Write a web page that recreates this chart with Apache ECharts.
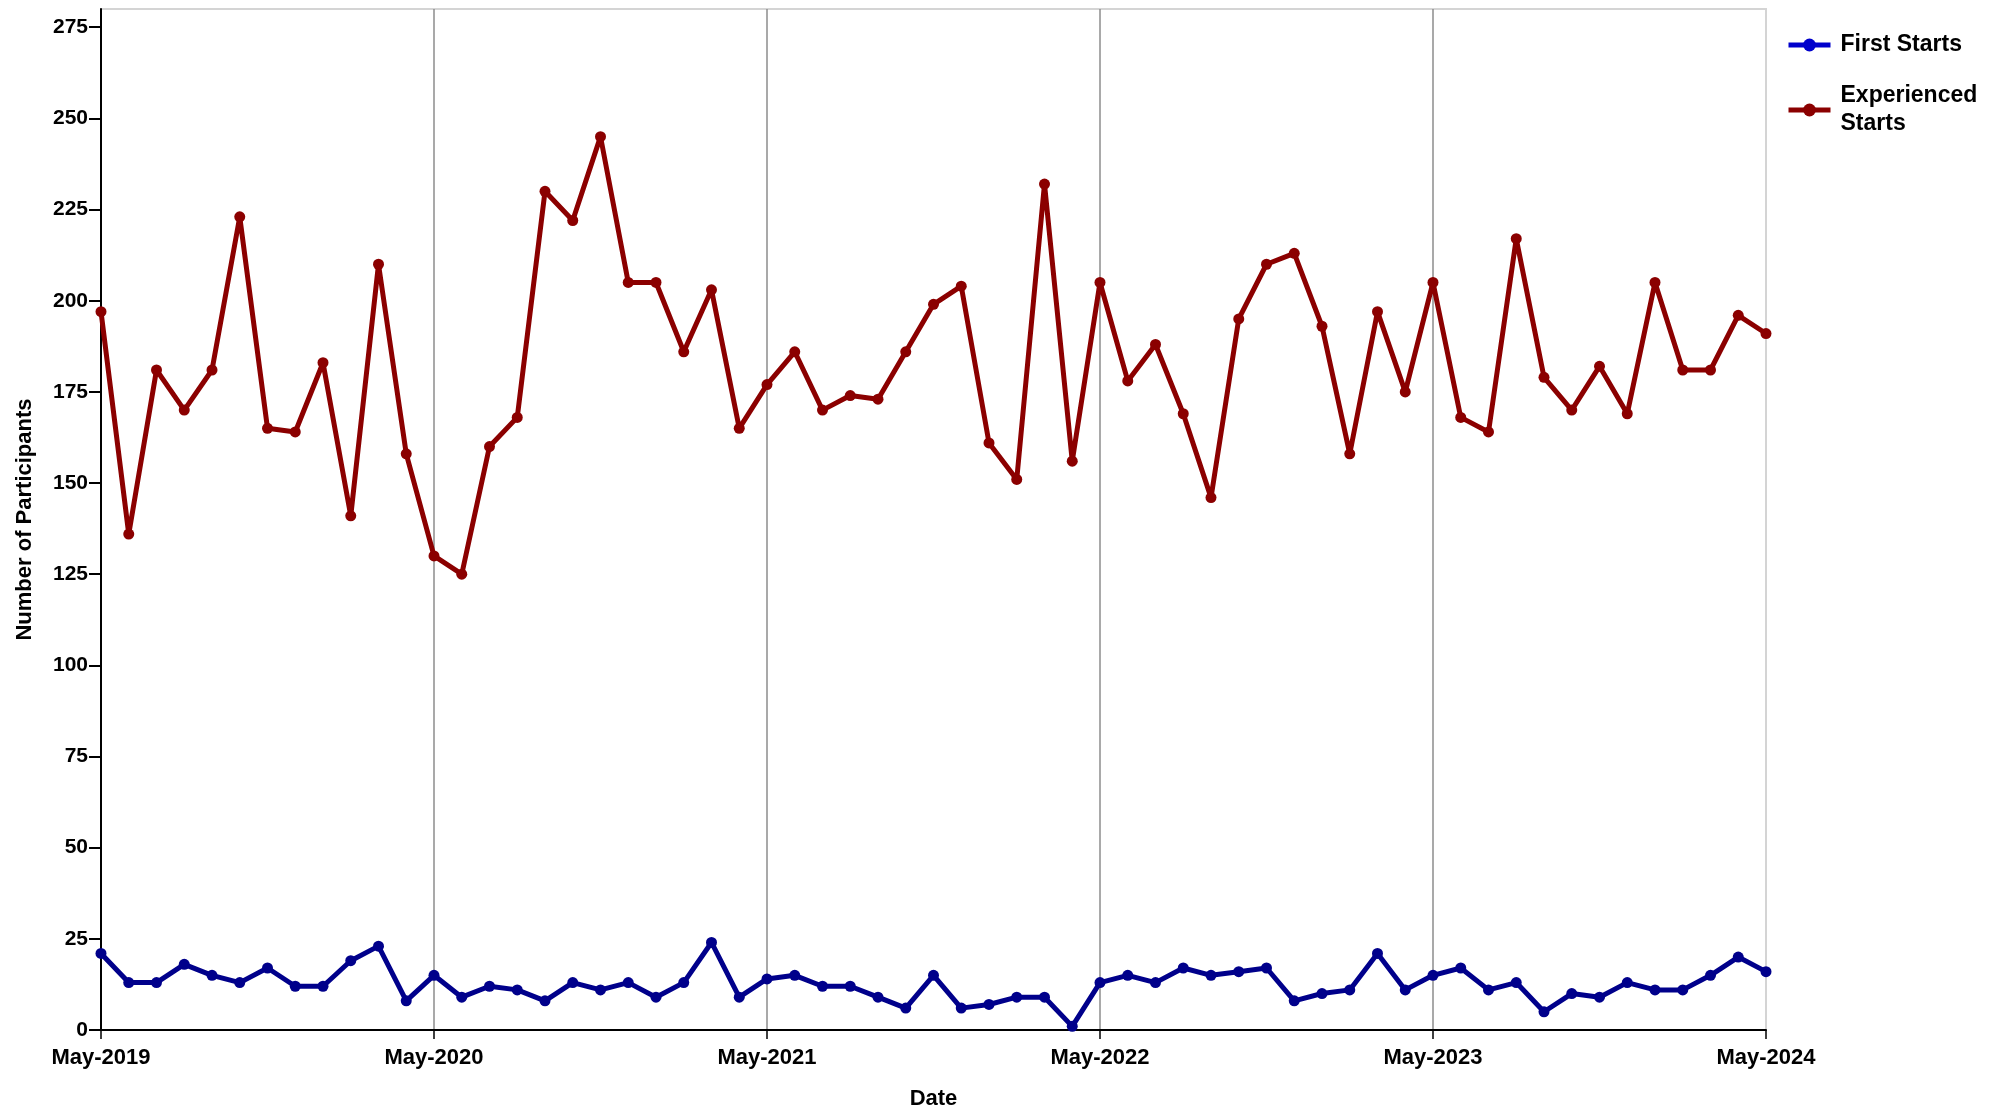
<!DOCTYPE html>
<html>
<head>
<meta charset="utf-8">
<script src="https://cdn.jsdelivr.net/npm/echarts@6/dist/echarts.min.js"></script>
<style>
  html, body { margin: 0; padding: 0; background: #ffffff; }
  #chart { width: 2007px; height: 1115px; }
</style>
</head>
<body>
<div id="chart"></div>
<script>
// Monthly categories May-2019 .. May-2024
const monthNames = ['Jan','Feb','Mar','Apr','May','Jun','Jul','Aug','Sep','Oct','Nov','Dec'];
const categories = [];
for (let i = 0; i < 61; i++) {
  const m = (4 + i) % 12;
  const y = 2019 + Math.floor((4 + i) / 12);
  categories.push(monthNames[m] + '-' + y);
}

const firstStarts = [21,13,13,18,15,13,17,12,12,19,23,8,15,9,12,11,8,13,11,13,9,13,24,9,14,15,12,12,9,6,15,6,7,9,9,1,13,15,13,17,15,16,17,8,10,11,21,11,15,17,11,13,5,10,9,13,11,11,15,20,16];

const experiencedStarts = [197,136,181,170,181,223,165,164,183,141,210,158,130,125,160,168,230,222,245,205,205,186,203,165,177,186,170,174,173,186,199,204,161,151,232,156,205,178,188,169,146,195,210,213,193,158,197,175,205,168,164,217,179,170,182,169,205,181,181,196,191];

const yTicks = [0,25,50,75,100,125,150,175,200,225,250,275];

const FONT = 'Liberation Sans, Arial, sans-serif';

const chart = echarts.init(document.getElementById('chart'), null, { renderer: 'canvas' });

chart.setOption({
  animation: false,
  backgroundColor: '#ffffff',
  textStyle: { fontFamily: FONT },
  grid: {
    left: 101, right: 241, top: 9, bottom: 66,
    show: true, borderColor: '#d4d4d4', borderWidth: 2, backgroundColor: 'transparent'
  },
  legend: {
    orient: 'vertical',
    left: 1781,
    top: 26,
    itemWidth: 42,
    itemHeight: 16,
    itemGap: 23,
    textStyle: { fontFamily: FONT, fontWeight: 'bold', fontSize: 23, color: '#000', lineHeight: 28, padding: [0, 0, 0, 5] },
    formatter: function (name) { return name === 'Experienced Starts' ? 'Experienced\nStarts' : name; },
    data: [
      { name: 'First Starts', itemStyle: { color: '#0000CC' }, lineStyle: { color: '#0000CC', width: 5 } },
      { name: 'Experienced Starts', itemStyle: { color: '#8B0000' }, lineStyle: { color: '#8B0000', width: 5 } }
    ]
  },
  xAxis: {
    type: 'category',
    data: categories,
    boundaryGap: false,
    name: 'Date',
    nameLocation: 'middle',
    nameGap: 58,
    nameTextStyle: { fontFamily: FONT, fontWeight: 'bold', fontSize: 22, color: '#000' },
    axisLine: { show: true, lineStyle: { color: '#000', width: 2 } },
    axisTick: { show: true, interval: 11, length: 9, lineStyle: { color: '#000', width: 1.5 } },
    axisLabel: { interval: 11, margin: 17, fontFamily: FONT, fontWeight: 'bold', fontSize: 22, color: '#000' },
    splitLine: {
      show: true,
      interval: function (index) { return index % 12 === 0 && index !== 0 && index !== 60; },
      lineStyle: { color: '#8c8c8c', width: 1.5 }
    }
  },
  yAxis: {
    type: 'value',
    min: 0,
    max: 280,
    interval: 25,
    name: 'Number of Participants',
    nameLocation: 'middle',
    nameRotate: 90,
    nameGap: 65,
    nameTextStyle: { fontFamily: FONT, fontWeight: 'bold', fontSize: 22, color: '#000' },
    axisLine: { show: true, lineStyle: { color: '#000', width: 2 } },
    axisTick: { show: true, length: 12, customValues: yTicks, lineStyle: { color: '#000', width: 2 } },
    axisLabel: { margin: 13, customValues: yTicks, fontFamily: FONT, fontWeight: 'bold', fontSize: 21, color: '#000' },
    splitLine: { show: false }
  },
  series: [
    {
      name: 'First Starts',
      type: 'line',
      data: firstStarts,
      symbol: 'circle',
      symbolSize: 11,
      showAllSymbol: true,
      lineStyle: { color: '#00008B', width: 5 },
      itemStyle: { color: '#00008B' },
      z: 3
    },
    {
      name: 'Experienced Starts',
      type: 'line',
      data: experiencedStarts,
      symbol: 'circle',
      symbolSize: 11,
      showAllSymbol: true,
      lineStyle: { color: '#8B0000', width: 5 },
      itemStyle: { color: '#8B0000' },
      z: 3
    }
  ]
});
</script>
</body>
</html>
